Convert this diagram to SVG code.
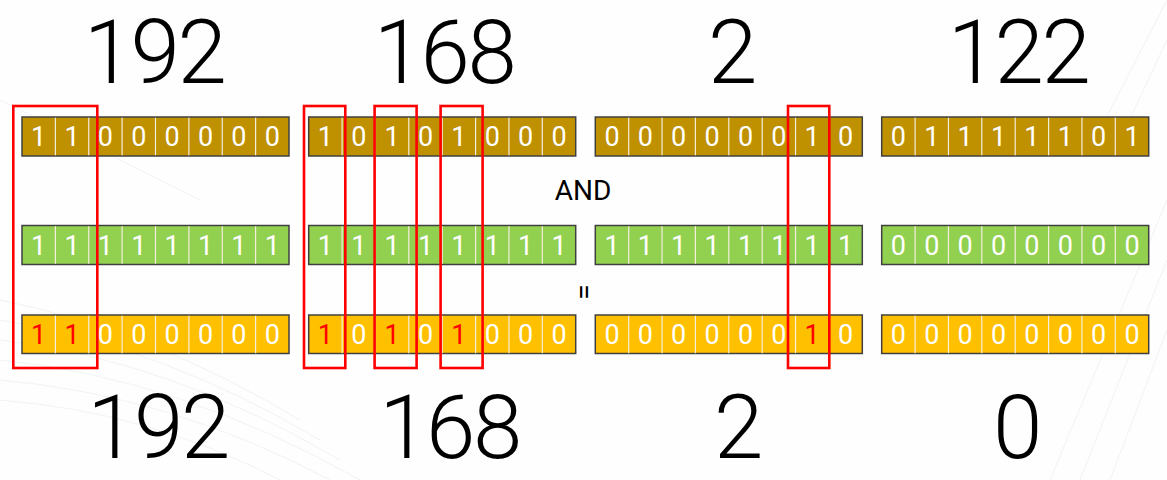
<svg xmlns="http://www.w3.org/2000/svg" xmlns:xlink="http://www.w3.org/1999/xlink" width="1167" height="480" viewBox="0 0 1167 480">
<style>
.bg{fill:#fefefe}
.swoosh{fill:none;stroke:#e9ecf0;stroke-width:1;opacity:.7}
.bar{stroke:#404040;stroke-width:1.5}
.brown{fill:#bf9000}
.green{fill:#92d050}
.yellow{fill:#ffc000}
.div{stroke:#f4eedc;stroke-width:1.2}
.bits{font-family:Roboto,"Liberation Sans",sans-serif;font-weight:400;font-size:27px;fill:#ffffff;text-anchor:middle}
.hot{fill:#ff0000}
.big{font-family:Roboto,"Liberation Sans",sans-serif;font-weight:300;font-size:89px;letter-spacing:-2.5px;fill:#000000;text-anchor:middle}
.op{font-family:Roboto,"Liberation Sans",sans-serif;font-size:28px;fill:#000000;text-anchor:middle}
.hl{fill:none;stroke:#ff0000;stroke-width:2.6}
</style>
<defs>
<g id="dividers" class="div">
<line x1="33.4" y1="0.8" x2="33.4" y2="38.2"/>
<line x1="66.75" y1="0.8" x2="66.75" y2="38.2"/>
<line x1="100.1" y1="0.8" x2="100.1" y2="38.2"/>
<line x1="133.5" y1="0.8" x2="133.5" y2="38.2"/>
<line x1="166.9" y1="0.8" x2="166.9" y2="38.2"/>
<line x1="200.25" y1="0.8" x2="200.25" y2="38.2"/>
<line x1="233.6" y1="0.8" x2="233.6" y2="38.2"/>
</g>
</defs>
<rect class="bg" x="0" y="0" width="1167" height="480"/>
<g id="background">
<path class="swoosh" d="M0 300 Q150 330 300 420"/>
<path class="swoosh" d="M0 320 Q160 345 320 440"/>
<path class="swoosh" d="M0 340 Q170 360 340 460"/>
<path class="swoosh" d="M0 360 Q180 378 360 480"/>
<path class="swoosh" d="M0 380 Q170 395 330 480"/>
<path class="swoosh" d="M0 400 Q150 412 280 480"/>
<path class="swoosh" d="M0 100 Q80 140 200 200"/>
<path class="swoosh" d="M1050 480 L1167 200"/>
<path class="swoosh" d="M1080 480 L1167 260"/>
<path class="swoosh" d="M1110 480 L1167 330"/>
<path class="swoosh" d="M1100 130 L1167 0"/>
<path class="swoosh" d="M1120 140 L1167 40"/>
</g>
<g id="top-numbers">
<text class="big" x="154" y="83">192</text>
<text class="big" x="444" y="83">168</text>
<text class="big" x="731.5" y="83">2</text>
<text class="big" x="1018" y="83">122</text>
</g>
<g id="row-address">
<g id="addr-1"><rect class="bar brown" x="22" y="117" width="267" height="39"/><use xlink:href="#dividers" x="22" y="117"/>
<text class="bits" y="146" x="38.7 72.1 105.4 138.8 172.2 205.6 238.9 272.3">11000000</text></g>
<g id="addr-2"><rect class="bar brown" x="308.7" y="117" width="267" height="39"/><use xlink:href="#dividers" x="308.7" y="117"/>
<text class="bits" y="146" x="325.4 358.8 392.1 425.5 458.9 492.3 525.6 559.0">10101000</text></g>
<g id="addr-3"><rect class="bar brown" x="595.3" y="117" width="267" height="39"/><use xlink:href="#dividers" x="595.3" y="117"/>
<text class="bits" y="146" x="612.0 645.4 678.7 712.1 745.5 778.9 812.2 845.6">00000010</text></g>
<g id="addr-4"><rect class="bar brown" x="881.7" y="117" width="267" height="39"/><use xlink:href="#dividers" x="881.7" y="117"/>
<text class="bits" y="146" x="898.4 931.8 965.1 998.5 1031.9 1065.3 1098.6 1132.0">01111101</text></g>
</g>
<g id="and-label"><text class="op" x="583" y="199.5">AND</text></g>
<g id="row-mask">
<g id="mask-1"><rect class="bar green" x="22" y="225.5" width="267" height="39"/><use xlink:href="#dividers" x="22" y="225.5"/>
<text class="bits" y="254.5" x="38.7 72.1 105.4 138.8 172.2 205.6 238.9 272.3">11111111</text></g>
<g id="mask-2"><rect class="bar green" x="308.7" y="225.5" width="267" height="39"/><use xlink:href="#dividers" x="308.7" y="225.5"/>
<text class="bits" y="254.5" x="325.4 358.8 392.1 425.5 458.9 492.3 525.6 559.0">11111111</text></g>
<g id="mask-3"><rect class="bar green" x="595.3" y="225.5" width="267" height="39"/><use xlink:href="#dividers" x="595.3" y="225.5"/>
<text class="bits" y="254.5" x="612.0 645.4 678.7 712.1 745.5 778.9 812.2 845.6">11111111</text></g>
<g id="mask-4"><rect class="bar green" x="881.7" y="225.5" width="267" height="39"/><use xlink:href="#dividers" x="881.7" y="225.5"/>
<text class="bits" y="254.5" x="898.4 931.8 965.1 998.5 1031.9 1065.3 1098.6 1132.0">00000000</text></g>
</g>
<g id="equals-label"><text class="op" x="0" y="0" transform="translate(585 292) rotate(90)" dy="10">=</text></g>
<g id="row-result">
<g id="res-1"><rect class="bar yellow" x="22" y="315" width="267" height="38.5"/><use xlink:href="#dividers" x="22" y="315"/>
<text class="bits" y="343.5" x="38.7 72.1 105.4 138.8 172.2 205.6 238.9 272.3"><tspan class="hot">11</tspan>000000</text></g>
<g id="res-2"><rect class="bar yellow" x="308.7" y="315" width="267" height="38.5"/><use xlink:href="#dividers" x="308.7" y="315"/>
<text class="bits" y="343.5" x="325.4 358.8 392.1 425.5 458.9 492.3 525.6 559.0"><tspan class="hot">1</tspan>0<tspan class="hot">1</tspan>0<tspan class="hot">1</tspan>000</text></g>
<g id="res-3"><rect class="bar yellow" x="595.3" y="315" width="267" height="38.5"/><use xlink:href="#dividers" x="595.3" y="315"/>
<text class="bits" y="343.5" x="612.0 645.4 678.7 712.1 745.5 778.9 812.2 845.6">000000<tspan class="hot">1</tspan>0</text></g>
<g id="res-4"><rect class="bar yellow" x="881.7" y="315" width="267" height="38.5"/><use xlink:href="#dividers" x="881.7" y="315"/>
<text class="bits" y="343.5" x="898.4 931.8 965.1 998.5 1031.9 1065.3 1098.6 1132.0">00000000</text></g>
</g>
<g id="highlights">
<rect class="hl" x="13.3" y="106" width="84" height="262"/>
<rect class="hl" x="304" y="106" width="41.3" height="262"/>
<rect class="hl" x="374.6" y="106" width="42" height="262"/>
<rect class="hl" x="440.6" y="106" width="42" height="262"/>
<rect class="hl" x="788" y="106" width="41.3" height="262"/>
</g>
<g id="bottom-numbers">
<text class="big" x="157.5" y="458">192</text>
<text class="big" x="449.5" y="458">168</text>
<text class="big" x="737.5" y="458">2</text>
<text class="big" x="1016.5" y="458">0</text>
</g>
</svg>
